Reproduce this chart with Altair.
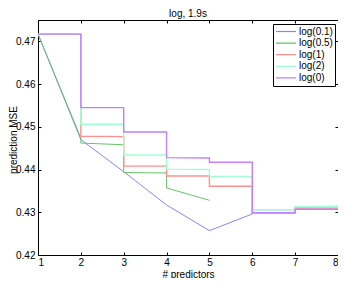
import altair as alt
import pandas as pd

series_names = ["log(0.1)", "log(0.5)", "log(1)", "log(2)", "log(0)"]
series_colors = ["#8686ff", "#66c466", "#ff9090", "#a0ffd2", "#c080ff"]
series_widths = [1.0, 1.0, 1.4, 1.4, 1.4]

x_01 = [1, 2, 3, 4, 5, 6, 6, 7, 7, 8]
y_01 = [0.4717, 0.4470, 0.4395, 0.4317, 0.4257, 0.4296, 0.4306, 0.4306, 0.4313, 0.4314]

x_05 = [1, 2, 2, 3, 3, 4, 4, 5]
y_05 = [0.4717, 0.4474, 0.4462, 0.4458, 0.4393, 0.4392, 0.4357, 0.4328]

x_1 = [1, 2, 2, 3, 3, 4, 4, 5, 5, 6, 6, 7, 7, 8]
y_1 = [0.4717, 0.4717, 0.4478, 0.4477, 0.4408, 0.4408, 0.4385, 0.4385, 0.4361, 0.4361, 0.4298, 0.4298, 0.4310, 0.4310]

x_2 = [1, 2, 2, 3, 3, 4, 4, 5, 5, 6, 6, 7, 7, 8]
y_2 = [0.4717, 0.4717, 0.4506, 0.4506, 0.4434, 0.4434, 0.4401, 0.4400, 0.4384, 0.4384, 0.4306, 0.4306, 0.4313, 0.4313]

x_0 = [1, 2, 2, 3, 3, 4, 4, 5, 5, 6, 6, 7, 7, 8]
y_0 = [0.4717, 0.4717, 0.4545, 0.4545, 0.4488, 0.4488, 0.4428, 0.4427, 0.4417, 0.4417, 0.4299, 0.4299, 0.4307, 0.4307]

x_ticks = [1, 2, 3, 4, 5, 6, 7, 8]
y_ticks = [0.42, 0.43, 0.44, 0.45, 0.46, 0.47]

all_x = [x_01, x_05, x_1, x_2, x_0]
all_y = [y_01, y_05, y_1, y_2, y_0]

rows = []
for si, (name, xs, ys) in enumerate(zip(series_names, all_x, all_y)):
    for i, (xv, yv) in enumerate(zip(xs, ys)):
        rows.append({"series": name, "x": xv, "y": yv, "idx": i,
                     "sw": series_widths[si]})
df = pd.DataFrame(rows)

W, H = 300, 235
FONT = "Liberation Sans"

chart = alt.Chart(df).mark_line(clip=True).encode(
    x=alt.X("x:Q", scale=alt.Scale(domain=[1, 8], nice=False, zero=False),
            axis=alt.Axis(values=x_ticks, format="d", title="# predictors",
                          grid=True, gridColor="black", gridWidth=1,
                          gridDash=[3, H - 6, 3, 2000], ticks=False, domain=False,
                          labelPadding=2, titlePadding=2)),
    y=alt.Y("y:Q", scale=alt.Scale(domain=[0.42, 0.475], nice=False, zero=False),
            axis=alt.Axis(values=y_ticks, format=".2f", title="prediction MSE",
                          grid=True, gridColor="black", gridWidth=1,
                          gridDash=[3, W - 6, 3, 2000], ticks=False, domain=False,
                          labelPadding=3, titleX=-30, titleY=H / 2 + 2,
                          titleAngle=-90, titleBaseline="top", titleAlign="center")),
    color=alt.Color("series:N", scale=alt.Scale(domain=series_names, range=series_colors),
                    legend=alt.Legend(title=None, orient="none", legendX=235, legendY=4,
                                      strokeColor="black", fillColor="white", padding=2,
                                      symbolType="stroke", symbolSize=400,
                                      symbolStrokeWidth=1.2, labelFontSize=10,
                                      labelFont=FONT, labelOffset=2, clipHeight=11,
                                      rowPadding=0.6, cornerRadius=0)),
    detail="series:N",
    order=alt.Order("idx:Q"),
    strokeWidth=alt.StrokeWidth("sw:Q", scale=None),
).properties(
    width=W, height=H,
    title=alt.Title("log, 1.9s", fontSize=10, fontWeight="normal", font=FONT,
                    offset=4, dy=11, baseline="alphabetic", anchor="middle", frame="group"),
    autosize=alt.AutoSizeParams(type="none"),
    padding={"left": 30, "top": 12, "right": 0, "bottom": 23},
).configure_view(
    stroke="black", strokeWidth=1
).configure_axis(
    labelFont=FONT, titleFont=FONT, labelFontSize=10, titleFontSize=10,
    titleFontWeight="normal", labelColor="black", titleColor="black"
)

chart.save("out.html", embed_options={"renderer": "svg", "actions": False})
